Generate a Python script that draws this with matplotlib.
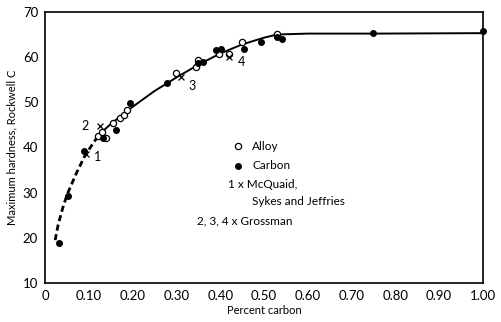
import matplotlib.pyplot as plt

# Curve
dash_x = [0.023, 0.03, 0.04, 0.05, 0.07, 0.09, 0.11, 0.125]
dash_y = [19.5, 23.0, 26.5, 29.5, 34.0, 38.0, 41.0, 43.0]
solid_x = [0.125, 0.15, 0.20, 0.25, 0.30, 0.35, 0.40, 0.45, 0.50, 0.53, 0.60, 0.75, 1.00]
solid_y = [43.0, 45.2, 49.0, 52.5, 55.5, 58.3, 60.8, 62.8, 64.3, 65.0, 65.2, 65.2, 65.3]

# Alloy steels (open circles)
alloy_x = [0.12, 0.13, 0.14, 0.156, 0.172, 0.181, 0.186, 0.30, 0.344, 0.349, 0.397, 0.42, 0.45, 0.53]
alloy_y = [42.5, 43.5, 42.0, 45.4, 46.6, 47.2, 48.3, 56.4, 57.7, 59.3, 60.6, 60.6, 63.3, 65.2]

# Carbon steels (filled circles)
carbon_x = [0.032, 0.053, 0.089, 0.133, 0.163, 0.195, 0.278, 0.349, 0.36, 0.39, 0.401, 0.454, 0.493, 0.53, 0.54, 0.748, 1.00]
carbon_y = [18.9, 29.2, 39.2, 42.0, 43.9, 49.9, 54.2, 58.6, 59.0, 61.5, 61.8, 61.9, 63.3, 64.5, 64.0, 65.3, 65.8]

# Crosses: 1 = McQuaid, Sykes and Jeffries; 2, 3, 4 = Grossman
cross_x = [0.094, 0.126, 0.31, 0.42]
cross_y = [38.5, 44.8, 55.5, 60.0]
cross_labels = ["1", "2", "3", "4"]
label_dx = [0.025, -0.035, 0.025, 0.028]
label_dy = [-0.5, 0.0, -2.0, -1.0]

plt.rcParams['font.family'] = ['Lato', 'DejaVu Sans']

fig = plt.figure(figsize=(5.01, 3.22), dpi=100)
ax = fig.add_axes([0.09, 0.121, 0.874, 0.842])

ax.plot(dash_x, dash_y, color="black", lw=2.0, ls=(0, (2.2, 1.3)))
ax.plot(solid_x, solid_y, color="black", lw=1.4)
ax.scatter(alloy_x, alloy_y, s=20, facecolors="white", edgecolors="black", linewidths=0.9, zorder=3)
ax.scatter(carbon_x, carbon_y, s=16, color="black", zorder=4, clip_on=False)
ax.scatter(cross_x, cross_y, s=18, marker="x", color="black", linewidths=0.9, zorder=4)
for x, y, t, dx, dy in zip(cross_x, cross_y, cross_labels, label_dx, label_dy):
    ax.text(x + dx, y + dy, t, fontsize=9, va="center", ha="center")

# Legend drawn as text like the original
ax.scatter([0.44], [40.3], s=20, facecolors="white", edgecolors="black", linewidths=0.9)
ax.scatter([0.44], [36.0], s=16, color="black")
ax.text(0.473, 40.3, "Alloy", fontsize=8.5, va="center")
ax.text(0.473, 36.0, "Carbon", fontsize=8.5, va="center")
ax.text(0.418, 31.8, "1 x McQuaid,", fontsize=8.5, va="center")
ax.text(0.473, 28.0, "Sykes and Jeffries", fontsize=8.5, va="center")
ax.text(0.347, 23.8, "2, 3, 4 x Grossman", fontsize=8.5, va="center")

ax.set_xlim(0, 1.0)
ax.set_ylim(10, 70)
ax.set_xticks([0, 0.1, 0.2, 0.3, 0.4, 0.5, 0.6, 0.7, 0.8, 0.9, 1.0])
ax.set_xticklabels(["0", "0.10", "0.20", "0.30", "0.40", "0.50", "0.60", "0.70", "0.80", "0.90", "1.00"])
ax.set_yticks([10, 20, 30, 40, 50, 60, 70])
ax.tick_params(length=0, labelsize=9.5, pad=5)
for s in ax.spines.values():
    s.set_linewidth(1.2)
ax.set_xlabel("Percent carbon", fontsize=8, labelpad=2)
ax.set_ylabel("Maximum hardness, Rockwell C", fontsize=8, labelpad=4)

fig.savefig("out.png", dpi=100)
